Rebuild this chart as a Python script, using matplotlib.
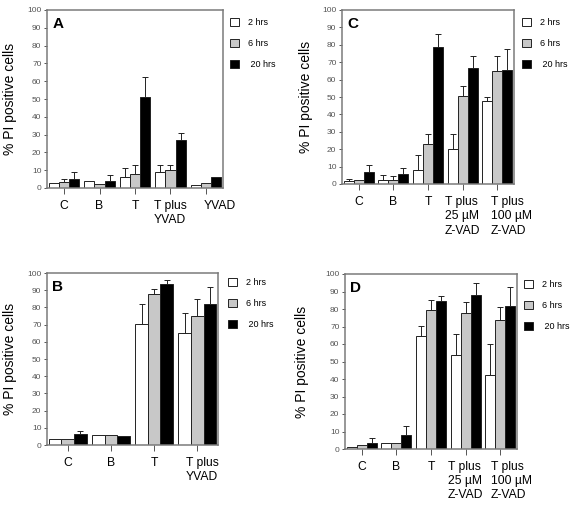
import numpy as np
import matplotlib
matplotlib.use('Agg')
import matplotlib.pyplot as plt

plt.rcParams['font.family'] = ['Liberation Sans', 'DejaVu Sans']

# 各面板数据
series_labels = ['2 hrs', '6 hrs', ' 20 hrs']

A_groups = ['C', 'B', 'T', 'T plus\nYVAD', 'YVAD']
A_2h = [2.6, 4.1, 6.0, 9.0, 1.5]
A_6h = [3.1, 2.5, 8.1, 10.0, 2.8]
A_20h = [5.1, 4.0, 51.3, 27.0, 6.0]
A_2h_err = [0, 0, 5.3, 4.2, 0]
A_6h_err = [2.2, 0, 5.1, 3.2, 0]
A_20h_err = [3.8, 3.2, 11.0, 4.1, 0]

B_groups = ['C', 'B', 'T', 'T plus\nYVAD']
B_2h = [3.7, 5.6, 70.2, 65.4]
B_6h = [3.7, 6.0, 88.0, 74.9]
B_20h = [6.6, 5.2, 93.6, 81.8]
B_2h_err = [0, 0, 11.6, 11.6]
B_6h_err = [0, 0, 2.5, 10.2]
B_20h_err = [1.7, 0, 2.1, 10.1]

C_groups = ['C', 'B', 'T', 'T plus\n25 µM\nZ-VAD', 'T plus\n100 µM\nZ-VAD']
C_2h = [1.5, 2.5, 7.8, 19.9, 47.8]
C_6h = [2.5, 2.5, 22.9, 50.7, 65.0]
C_20h = [7.1, 5.7, 78.8, 66.9, 65.6]
C_2h_err = [1.6, 2.5, 9.0, 8.8, 2.1]
C_6h_err = [0, 1.9, 5.8, 5.9, 8.8]
C_20h_err = [3.8, 3.3, 7.2, 6.9, 11.8]

D_groups = ['C', 'B', 'T', 'T plus\n25 µM\nZ-VAD', 'T plus\n100 µM\nZ-VAD']
D_2h = [1.3, 3.6, 64.3, 53.6, 42.4]
D_6h = [2.3, 3.2, 79.6, 77.7, 73.5]
D_20h = [3.2, 8.0, 84.7, 88.2, 81.9]
D_2h_err = [0, 0, 6.1, 12.4, 17.7]
D_6h_err = [0, 0, 5.7, 6.1, 7.6]
D_20h_err = [2.9, 5.4, 2.9, 6.6, 10.7]

W, H = 573, 505
fig = plt.figure(figsize=(W / 100, H / 100), dpi=100)


def px_axes(x0, y0, x1, y1):
    # 像素坐标 -> 图坐标
    return fig.add_axes([x0 / W, 1 - y1 / H, (x1 - x0) / W, (y1 - y0) / H])


def draw_panel(ax, letter, groups, vals, errs, legend_xy, ylabel_pad, last_shift):
    colors = ['white', '#c8c8c8', 'black']
    n = len(groups)
    x = np.arange(n)
    bw = 0.29
    handles = []
    for k in range(3):
        pos = x + (k - 1) * bw
        b = ax.bar(pos, vals[k], bw, color=colors[k], edgecolor='#222222',
                   linewidth=0.7, zorder=2, label=series_labels[k])
        handles.append(b)
        e = np.array(errs[k])
        m = e > 0
        ax.errorbar(pos[m], np.array(vals[k])[m], yerr=[np.zeros(m.sum()), e[m]],
                    fmt='none', ecolor='#222222', elinewidth=0.7, capsize=2.2,
                    capthick=0.7, zorder=3)
    ax.set_xlim(-0.48, n - 0.52)
    ax.set_ylim(0, 100)
    ax.set_yticks(range(0, 101, 10))
    ax.set_xticks(x)
    ax.set_xticklabels([])
    # 分类标签（最后一个在原图中略向右偏）
    for i, g in enumerate(groups):
        dx = last_shift if i == n - 1 else 0
        ax.annotate(g, xy=(i, 0), xycoords=('data', 'axes fraction'),
                    xytext=(dx, -12), textcoords='offset pixels',
                    ha='center', va='top', fontsize=8.7,
                    multialignment='left', linespacing=1.25)
    ax.tick_params(axis='y', labelsize=6, colors='#555555', length=2.5,
                   width=0.7, pad=1.5)
    ax.tick_params(axis='x', length=4, width=0.7, color='#555555')
    for s in ax.spines.values():
        s.set_color('#7a7a7a')
        s.set_linewidth(1.1)
    ax.set_ylabel('% PI positive cells', fontsize=10, labelpad=ylabel_pad)
    ax.text(0.03, 0.96, letter, transform=ax.transAxes, fontsize=11,
            fontweight='bold', va='top', ha='left')
    fig.legend(handles=handles, loc='upper left',
               bbox_to_anchor=(legend_xy[0] / W, 1 - legend_xy[1] / H),
               frameon=False, fontsize=6.5, handlelength=1.0, handleheight=1.0,
               labelspacing=1.3, handletextpad=1.0, borderpad=0,
               borderaxespad=0)


axA = px_axes(47, 10, 223, 188)
draw_panel(axA, 'A', A_groups, [A_2h, A_6h, A_20h],
           [A_2h_err, A_6h_err, A_20h_err], (230, 18), 7, 14)

axC = px_axes(342, 10, 514, 184)
draw_panel(axC, 'C', C_groups, [C_2h, C_6h, C_20h],
           [C_2h_err, C_6h_err, C_20h_err], (522, 18), 6.5, 14)

axB = px_axes(47, 273, 218, 445)
draw_panel(axB, 'B', B_groups, [B_2h, B_6h, B_20h],
           [B_2h_err, B_6h_err, B_20h_err], (228, 278), 7, 5)

axD = px_axes(345, 274, 517, 449)
draw_panel(axD, 'D', D_groups, [D_2h, D_6h, D_20h],
           [D_2h_err, D_6h_err, D_20h_err], (524, 280), 12, 11)

fig.savefig('out.png', dpi=100)
